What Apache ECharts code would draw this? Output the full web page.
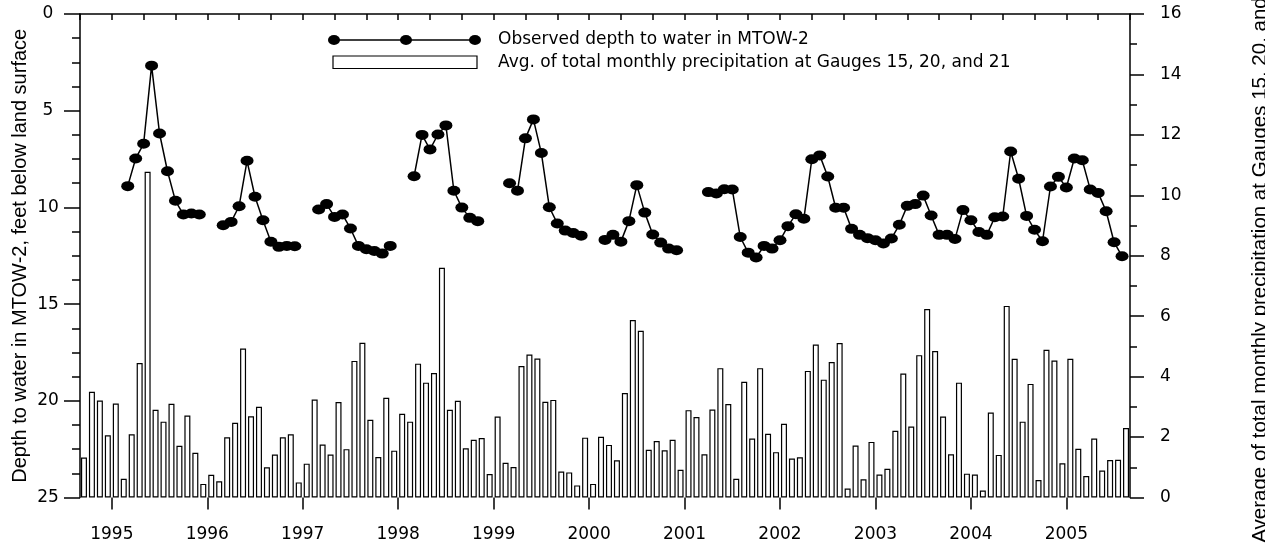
<!DOCTYPE html>
<html>
<head>
<meta charset="utf-8">
<script src="https://cdn.jsdelivr.net/npm/echarts@6/dist/echarts.min.js"></script>
<style>
  html, body { margin: 0; padding: 0; background: #fff; }
  #chart { width: 1265px; height: 548px; }
</style>
</head>
<body>
<div id="chart"></div>
<script>
// ---- Data (monthly, September 1994 through August 2005) ----
const startYear = 1994;
const startMonth = 9; // September
// Average of total monthly precipitation at Gauges 15, 20, and 21 (one value per month)
const precipitation = [
  1.32, 3.50, 3.21, 2.06,                                              // Sep-Dec 1994
  3.11, 0.62, 2.09, 4.45, 10.78, 2.90, 2.51, 3.10, 1.71, 2.71, 1.48, 0.45, // 1995
  0.75, 0.54, 1.99, 2.47, 4.93, 2.69, 3.00, 1.00, 1.42, 1.99, 2.09, 0.50,  // 1996
  1.12, 3.24, 1.75, 1.42, 3.16, 1.60, 4.52, 5.12, 2.57, 1.34, 3.30, 1.55,  // 1997
  2.77, 2.51, 4.43, 3.80, 4.12, 7.60, 2.90, 3.20, 1.63, 1.91, 1.97, 0.78,  // 1998
  2.68, 1.15, 1.01, 4.35, 4.73, 4.60, 3.17, 3.23, 0.86, 0.83, 0.40, 1.98,  // 1999
  0.45, 2.01, 1.74, 1.23, 3.46, 5.87, 5.52, 1.58, 1.87, 1.56, 1.91, 0.92,  // 2000
  2.89, 2.66, 1.43, 2.91, 4.28, 3.09, 0.62, 3.83, 1.95, 4.28, 2.11, 1.50,  // 2001
  2.44, 1.29, 1.33, 4.19, 5.06, 3.90, 4.48, 5.11, 0.30, 1.72, 0.60, 1.84,  // 2002
  0.76, 0.95, 2.21, 4.10, 2.35, 4.71, 6.24, 4.85, 2.68, 1.43, 3.80, 0.79,  // 2003
  0.76, 0.23, 2.81, 1.41, 6.34, 4.59, 2.51, 3.76, 0.58, 4.89, 4.53, 1.13,  // 2004
  4.59, 1.61, 0.71, 1.95, 0.89, 1.24, 1.25, 2.30                           // Jan-Aug 2005
];
// Observed depth to water in MTOW-2 (feet below land surface), first of each month; null = no observation
const depthToWater = [
  null, null, null, null,                                                        // Sep-Dec 1994
  null, null, 8.90, 7.47, 6.71, 2.67, 6.18, 8.13, 9.66, 10.37, 10.32, 10.37,     // 1995
  null, null, 10.92, 10.75, 9.94, 7.59, 9.45, 10.66, 11.78, 12.04, 11.99, 12.01, // 1996
  null, null, 10.11, 9.83, 10.49, 10.37, 11.09, 11.99, 12.16, 12.25, 12.39, 11.99, // 1997
  null, null, 8.39, 6.25, 7.00, 6.23, 5.76, 9.14, 10.01, 10.54, 10.71, null,     // 1998
  null, null, 8.75, 9.14, 6.43, 5.45, 7.19, 9.99, 10.83, 11.20, 11.32, 11.46,    // 1999
  null, null, 11.68, 11.42, 11.77, 10.71, 8.85, 10.27, 11.40, 11.82, 12.13, 12.22, // 2000
  null, null, null, 9.21, 9.28, 9.06, 9.07, 11.53, 12.34, 12.59, 11.99, 12.13,   // 2001
  11.70, 10.97, 10.35, 10.59, 7.51, 7.31, 8.40, 10.02, 10.02, 11.11, 11.42, 11.59, // 2002
  11.70, 11.87, 11.61, 10.90, 9.92, 9.83, 9.39, 10.42, 11.42, 11.42, 11.63, 10.14, // 2003
  10.66, 11.27, 11.42, 10.51, 10.47, 7.11, 8.52, 10.44, 11.16, 11.75, 8.92, 8.42,  // 2004
  8.97, 7.47, 7.56, 9.07, 9.25, 10.20, 11.80, 12.53                              // Jan-Aug 2005
];
const yearLabels = ['1995','1996','1997','1998','1999','2000','2001','2002','2003','2004','2005'];
const depthTicks = [0, 5, 10, 15, 20, 25];
const precipTicks = [0, 2, 4, 6, 8, 10, 12, 14, 16];
const lineName = 'Observed depth to water in MTOW-2';
const barName = 'Avg. of total monthly precipitation at Gauges 15, 20, and 21';
const leftTitle = 'Depth to water in MTOW-2, feet below land surface';
const rightTitle = 'Average of total monthly precipitation at Gauges 15, 20, and 21';

// ---- Build series data: x is months since January of startYear ----
const firstIndex = startMonth - 1;
const barData = precipitation.map((v, i) => [firstIndex + i + 0.5, v]);      // mid-month
const lineData = depthToWater.map((v, i) => [firstIndex + i, v === null ? '-' : v]); // first of month
const yearValues = yearLabels.map(y => (Number(y) - startYear) * 12);
const xMin = firstIndex;
const xMax = firstIndex + precipitation.length;

const black = '#000';
const tickFont = { color: black, fontSize: 17, fontFamily: 'DejaVu Sans' };

const chart = echarts.init(document.getElementById('chart'), null, { renderer: 'canvas' });
chart.setOption({
  animation: false,
  backgroundColor: '#fff',
  grid: { left: 80, right: 135, top: 14, bottom: 50.5, containLabel: false, outerBoundsMode: 'none' },
  xAxis: [
    {
      type: 'value', min: xMin, max: xMax, interval: 4,
      axisLine: { show: true, lineStyle: { color: black, width: 1.5 } },
      axisTick: { show: true, inside: false, length: 6, lineStyle: { color: black, width: 1.5 } },
      axisLabel: Object.assign({
        margin: 29,
        customValues: yearValues,
        formatter: v => String(startYear + Math.round(v / 12))
      }, tickFont),
      splitLine: { show: false }
    },
    {
      type: 'value', min: xMin, max: xMax, position: 'bottom',
      axisLine: { show: false },
      axisTick: { show: true, inside: false, length: 12, customValues: yearValues, lineStyle: { color: black, width: 1.5 } },
      axisLabel: { show: false },
      splitLine: { show: false }
    }
  ],
  yAxis: [
    {
      type: 'value', inverse: true, min: depthTicks[0], max: depthTicks[depthTicks.length - 1], interval: 5,
      position: 'left',
      name: leftTitle, nameLocation: 'middle', nameGap: 50, nameRotate: 90, nameMoveOverlap: false,
      nameTextStyle: { color: black, fontSize: 20, fontFamily: 'Liberation Sans' },
      axisLine: { show: true, lineStyle: { color: black, width: 1.5 } },
      axisTick: { show: true, inside: false, length: 16, lineStyle: { color: black, width: 1.5 } },
      minorTick: { show: true, splitNumber: 4, length: 8, lineStyle: { color: black, width: 1.5 } },
      axisLabel: Object.assign({ margin: 32, align: 'center' }, tickFont),
      splitLine: { show: false }, minorSplitLine: { show: false }
    },
    {
      type: 'value', min: precipTicks[0], max: precipTicks[precipTicks.length - 1], interval: 2,
      position: 'right',
      name: rightTitle, nameLocation: 'middle', nameGap: 120, nameRotate: 90,
      nameTextStyle: { color: black, fontSize: 20.5, fontFamily: 'Liberation Sans' },
      axisLine: { show: true, lineStyle: { color: black, width: 1.5 } },
      axisTick: { show: true, inside: false, length: 14, lineStyle: { color: black, width: 1.5 } },
      minorTick: { show: true, splitNumber: 2, length: 7, lineStyle: { color: black, width: 1.5 } },
      axisLabel: Object.assign({ margin: 30 }, tickFont),
      splitLine: { show: false }, minorSplitLine: { show: false }
    }
  ],
  series: [
    {
      name: barName, type: 'bar', xAxisIndex: 0, yAxisIndex: 1,
      data: barData, barWidth: 6,
      itemStyle: { color: '#fff', borderColor: black, borderWidth: 1.2 },
      z: 2
    },
    {
      name: lineName, type: 'line', xAxisIndex: 0, yAxisIndex: 0,
      data: lineData, connectNulls: false,
      symbol: 'circle', symbolSize: [13, 10], showSymbol: true,
      itemStyle: { color: black },
      lineStyle: { color: black, width: 1.5 },
      z: 3
    }
  ],
  graphic: [
    { type: 'line', shape: { x1: 334, y1: 40, x2: 475, y2: 40 }, style: { stroke: black, lineWidth: 1.5 } },
    { type: 'circle', x: 334, y: 40, scaleX: 1.2, shape: { cx: 0, cy: 0, r: 5 }, style: { fill: black } },
    { type: 'circle', x: 406, y: 40, scaleX: 1.2, shape: { cx: 0, cy: 0, r: 5 }, style: { fill: black } },
    { type: 'circle', x: 475, y: 40, scaleX: 1.2, shape: { cx: 0, cy: 0, r: 5 }, style: { fill: black } },
    { type: 'rect', shape: { x: 333, y: 56, width: 144, height: 12.5 }, style: { fill: '#fff', stroke: black, lineWidth: 1.2 } },
    { type: 'text', x: 498, y: 40, style: { text: lineName, fill: black, fontSize: 17, fontFamily: 'DejaVu Sans', verticalAlign: 'middle', align: 'left' } },
    { type: 'text', x: 498, y: 62.5, style: { text: barName, fill: black, fontSize: 17, fontFamily: 'DejaVu Sans', verticalAlign: 'middle', align: 'left' } }
  ]
});
</script>
</body>
</html>
